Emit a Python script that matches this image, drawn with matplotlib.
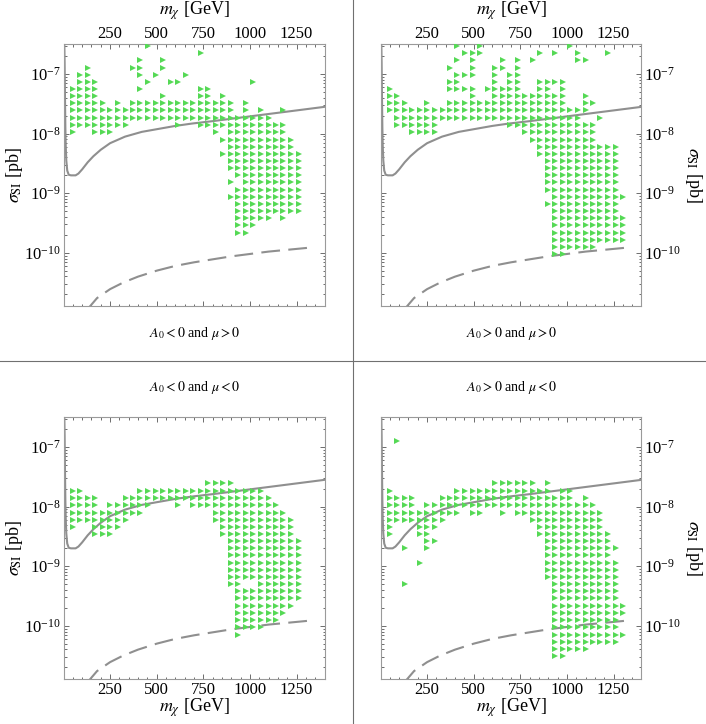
import numpy as np
import matplotlib
matplotlib.use("Agg")
import matplotlib.pyplot as plt
from matplotlib.lines import Line2D
from matplotlib.ticker import FixedLocator, NullFormatter, LogLocator

plt.rcParams['font.family'] = ['Liberation Serif', 'DejaVu Serif']
plt.rcParams['mathtext.fontset'] = 'stix'

# grid of the scan as it appears in the picture
mx_cols = [50, 90, 131, 171, 212, 252, 292, 333, 373, 413, 454, 494, 535, 575, 615, 656,
           696, 736, 777, 817, 857, 898, 938, 978, 1019, 1059, 1100, 1140, 1180, 1221, 1261, 1301]
log_sig_rows = [-6.53, -6.65, -6.77, -6.89, -7.01, -7.13, -7.25, -7.37, -7.49, -7.61, -7.74, -7.86,
                -7.98, -8.10, -8.22, -8.34, -8.46, -8.58, -8.70, -8.82, -8.94, -9.06, -9.18, -9.30,
                -9.42, -9.54, -9.66, -9.78, -9.90, -10.02, -10.15, -10.27, -10.39, -10.51]

# XENON-like exclusion (solid) and projected reach (dashed)
xenon_m = [3.5, 6, 8, 10, 12, 15, 20, 28, 40, 65, 80, 100, 130, 160, 200, 250, 330, 420, 510,
           600, 690, 800, 900, 1000, 1100, 1200, 1300, 1400]
xenon_log = [-6.3, -6.8, -7.4, -7.9, -8.2, -8.45, -8.62, -8.69, -8.70, -8.70, -8.67, -8.60, -8.48,
             -8.38, -8.27, -8.16, -8.05, -7.97, -7.92, -7.87, -7.83, -7.79, -7.75, -7.71, -7.67,
             -7.63, -7.59, -7.55]
future_m = [120, 180, 250, 320, 400, 500, 600, 700, 800, 900, 1000, 1100, 1200, 1300, 1350]
future_log = [-10.98, -10.76, -10.61, -10.50, -10.40, -10.30, -10.22, -10.16, -10.11, -10.06,
              -10.02, -9.98, -9.95, -9.92, -9.90]

# occupancy of the grid, one string per row (top row first), '>' = model point
map_neg_pos = [
    "........ ..>..... ........ ........",
    "........ ........ .>...... ........",
    "........ .>..>... ........ ........",
    "..>..... >>..>... ........ ........",
    ".>>..... .>.>...> ........ ........",
    ".>>>.... ..>..>>. ........ >.......",
    ">>>>.... .>...... .>>..... ........",
    ">>>>.... ....>... .>>.>... ........",
    ">>>>>.>. >>>>>>>> >>>>>>.> ........",
    ">>>>>>>> >>>>>>>> >>>>>>.> .>..>...",
    ">>>>>>>> >>>>>>>> >>>>>>>> >>>.....",
    ">>>>>>>> ......>. .>>>>>>> >>>>>...",
    ">..>>>.. ........ ...>.>>> >>>>>...",
    "........ ........ ....>>>> >>>>>>..",
    "........ ........ .....>>> >>>>>>..",
    "........ ........ ....>>>> >>>>>>>.",
    "........ ........ .....>>> >>>>>>>.",
    "........ ........ .....>>> >>>>>>>.",
    "........ ........ ......>> >>>>>>>.",
    "........ ........ .....>.> >>>>>>>.",
    "........ ........ ......>> >>>>>>>.",
    "........ ........ .....>>> >>>>>>>.",
    "........ ........ ......>> >>>>>>>.",
    "........ ........ ......>> >>>>>>>.",
    "........ ........ ......>> >>>.>...",
    "........ ........ ......>> >.......",
    "........ ........ ......>> ........",
    "........ ........ ........ ........",
    "........ ........ ........ ........",
    "........ ........ ........ ........",
    "........ ........ ........ ........",
    "........ ........ ........ ........",
    "........ ........ ........ ........",
    "........ ........ ........ ........",
]
map_pos_pos = [
    "........ .>..>... ........ >.......",
    "........ ..>>>... ....>.>. .>...>..",
    "........ .>.>...> .>.>.... .>>.....",
    "........ >..>..>> .>...... ........",
    "........ .>>>..>. >>...... ........",
    "........ >>....>. >>..>>>> ........",
    ">....... >>>>.>>> >>..>>.> ........",
    ">>...... ...>..>> >>>>>>>> ..>.....",
    ">>>..>.. >>>>>>>> >>>>>>>> ..>>....",
    ">>>>>>>> >>>>>>>> >>>>>>>> >>>.....",
    ".>>>>>>> >>>>>>>> >>>>>>>> >>..>...",
    ".>>>>>>. ........ >>>>>>>> >>>>....",
    "...>>>>. ........ ..>>>>>> >>>>....",
    "........ ........ ...>>>>> >>>>....",
    "........ ........ ....>>>> >>>>>>>.",
    "........ ........ ....>>>> >>>>>>>.",
    "........ ........ .....>>> >>>>>>>.",
    "........ ........ .....>>> >>>>>>>.",
    "........ ........ .....>>> >>>>>>>.",
    "........ ........ .....>>> >>>>>>>.",
    "........ ........ .....>>> >>>>>>>.",
    "........ ........ ......>> >>>>>>>>",
    "........ ........ .....>>> >>>>>>>.",
    "........ ........ ......>> >>>>>>>.",
    "........ ........ ......>> >>>>>>>>",
    "........ ........ ......>> >>>>>>>>",
    "........ ........ ......>> >>>>>>>>",
    "........ ........ ......>> >>>>>>>>",
    "........ ........ ......>> >>>>....",
    "........ ........ ......>> ........",
    "........ ........ ........ ........",
    "........ ........ ........ ........",
    "........ ........ ........ ........",
    "........ ........ ........ ........",
]
map_neg_neg = [
    "........ ........ ........ ........",
    "........ ........ ........ ........",
    "........ ........ ........ ........",
    "........ ........ ........ ........",
    "........ ........ ........ ........",
    "........ ........ ........ ........",
    "........ ........ ........ ........",
    "........ ........ ........ ........",
    "........ ........ ........ ........",
    "........ ........ ..>>>>.. ........",
    ">>...... .>>>>>>> >>>>>>>> >>......",
    ">>>>...> >>>>>>>> >>>>>>>> >>>.....",
    ">>>>.>>> >>>...>. >>>>>>>> >>>>....",
    ">>>>>>>> >>...... ...>>>>> >>>>>...",
    ">>>>>>>> ........ ...>>>>> >>>>>>..",
    ">..>>>>. ........ ....>>>> >>>>>>..",
    "...>>>.. ........ ....>>>> >>>>>>..",
    "........ ........ .....>>> >>>>>>>.",
    "........ ........ .....>>> >>>>>>>.",
    "........ ........ .....>>> >>>>>>>.",
    "........ ........ .....>>> >>>>>>>.",
    "........ ........ .....>>> >>>>>>>.",
    "........ ........ .....>>> >>>>>>>.",
    "........ ........ .....>>. .>>>>>>.",
    "........ ........ ......>> >>>>>>>.",
    "........ ........ ......>> >>>>>>>.",
    "........ ........ ......>> >>>>>>..",
    "........ ........ ......>> >>>>>...",
    "........ ........ ......>> >>>>....",
    "........ ........ ......>> >>......",
    "........ ........ ......>. ........",
    "........ ........ ........ ........",
    "........ ........ ........ ........",
    "........ ........ ........ ........",
]
map_pos_neg = [
    "........ ........ ........ ........",
    "........ ........ ........ ........",
    "........ ........ ........ ........",
    ".>...... ........ ........ ........",
    "........ ........ ........ ........",
    "........ ........ ........ ........",
    "........ ........ ........ ........",
    "........ ........ ........ ........",
    "........ ........ ........ ........",
    "........ ......>> >>>>.>.. ........",
    ">....... .>>>>>>> >>>>>>.> >.......",
    ">>>>...> >>>>>>>> >>>>>>>> >.>.....",
    ">>>>.>>> >>>>>>>> >>>>>>>> >>>>....",
    ">>>>>>>> >>.>>..> .>>>>>>> >>>>>...",
    ">>>>>>>> ........ ...>>>>> >>>>>...",
    ">...>>>. ........ ....>>>> >>>>>...",
    ">...>>.. ........ ....>>>> >>>>>>..",
    ".....>>. ........ .....>>> >>>>>>..",
    "..>..>.. ........ .....>>> >>>>>>>.",
    "........ ........ .....>>> >>>>>>..",
    "....>... ........ .....>>> >>>>>>>.",
    "........ ........ .....>>> >>>>>>>.",
    "........ ........ .....>>> >>>>>>>.",
    "..>..... ........ ......>> >>>>>>>.",
    "........ ........ ......>> >>>>>>>.",
    "........ ........ ......>> >>>>>>>.",
    "........ ........ ......>> >>>>>>>>",
    "........ ........ ......>> >>>>>>>>",
    "........ ........ ......>> >>>>>>>.",
    "........ ........ ......>> >>>>>>>.",
    "........ ........ ......>> >>>>>>>>",
    "........ ........ ......>> >>>>>>>.",
    "........ ........ ......>> >>>.....",
    "........ ........ ......>> ........",
]

captions = [r'$A_0 < 0$ and $\mu > 0$', r'$A_0 > 0$ and $\mu > 0$',
            r'$A_0 < 0$ and $\mu < 0$', r'$A_0 > 0$ and $\mu < 0$']
mx_ticks = [250, 500, 750, 1000, 1250]

green = '#55d955'
curve_col = '#8f8f8f'
W, H = 706.0, 724.0
AX_W, AX_H = 261.0, 261.5


def grid_points(rows):
    xs, ys = [], []
    for r, row in enumerate(rows):
        s = row.replace(' ', '')
        for c, ch in enumerate(s):
            if ch == '>':
                xs.append(mx_cols[c])
                ys.append(10 ** log_sig_rows[r])
    return xs, ys


fig = plt.figure(figsize=(W / 100, H / 100), dpi=100)
fig.set_facecolor('w')

# (left, top) of each frame in pixels
frames = [(63.5, 44.3), (380.5, 44.3), (63.5, 417.3), (380.5, 417.3)]
maps = [map_neg_pos, map_pos_pos, map_neg_neg, map_pos_neg]
cap_y = [333, 333, 387, 387]

for i in range(4):
    left, top = frames[i]
    ax = fig.add_axes([left / W, 1 - (top + AX_H) / H, AX_W / W, AX_H / H])
    is_top = i < 2
    is_right = i % 2 == 1

    ax.plot(xenon_m, 10 ** np.array(xenon_log), color=curve_col, lw=1.5, zorder=2)
    ax.plot(future_m, 10 ** np.array(future_log), color=curve_col, lw=1.5,
            ls=(0, (9, 4)), zorder=2)
    xs, ys = grid_points(maps[i])
    ax.plot(xs, ys, ls='none', marker='>', ms=3.9, mew=0, color=green, zorder=3)

    ax.set_yscale('log')
    ax.set_xlim(0, 1400)
    ax.set_ylim(10 ** -10.89, 10 ** -6.5)
    ax.set_xticks(mx_ticks)
    ax.xaxis.set_minor_locator(FixedLocator(np.arange(50, 1400, 50)))
    ax.yaxis.set_major_locator(LogLocator(base=10, numticks=20))
    ax.yaxis.set_minor_locator(LogLocator(base=10, subs=np.arange(2, 10), numticks=20))
    ax.yaxis.set_minor_formatter(NullFormatter())

    for sp in ax.spines.values():
        sp.set_color('#9a9a9a')
        sp.set_linewidth(0.8)
    ax.tick_params(which='both', direction='in', top=True, bottom=True, left=True, right=True,
                   color='#555555', labelsize=12, width=0.6,
                   labeltop=is_top, labelbottom=not is_top,
                   labelleft=not is_right, labelright=is_right)
    ax.tick_params(which='major', length=3.5, pad=2)
    ax.tick_params(which='minor', length=1.8)
    if is_top:
        ax.tick_params(axis='x', which='major', pad=1.5)

    # axis titles placed at the positions seen in the picture
    if is_top:
        ax.xaxis.set_label_position('top')
        ax.set_xlabel(r'$m_\chi$ [GeV]', fontsize=13)
        ax.xaxis.set_label_coords(0.5, 1 + (top - 11) / AX_H)
    else:
        ax.set_xlabel(r'$m_\chi$ [GeV]', fontsize=13)
        ax.xaxis.set_label_coords(0.5, -(707.5 - (top + AX_H)) / AX_H)
    ax.xaxis.label.set_va('center')

    if is_right:
        ax.yaxis.set_label_position('right')
        ax.set_ylabel(r'$\sigma_{\mathrm{SI}}$ [pb]', fontsize=13, rotation=270)
        ax.yaxis.set_label_coords((694 - left) / AX_W, 0.5)
    else:
        ax.set_ylabel(r'$\sigma_{\mathrm{SI}}$ [pb]', fontsize=13)
        ax.yaxis.set_label_coords((14 - left) / AX_W, 0.5)
    ax.yaxis.label.set_va('center')
    ax.yaxis.label.set_ha('center')

    fig.text((left + 131) / W, 1 - cap_y[i] / H, captions[i], fontsize=10,
             ha='center', va='center')

# panel separators
fig.add_artist(Line2D([353 / W, 353 / W], [0, 1], transform=fig.transFigure,
                      color='#707070', lw=0.8))
fig.add_artist(Line2D([0, 1], [1 - 361 / H, 1 - 361 / H], transform=fig.transFigure,
                      color='#707070', lw=0.8))

fig.savefig('out.png', dpi=100)
